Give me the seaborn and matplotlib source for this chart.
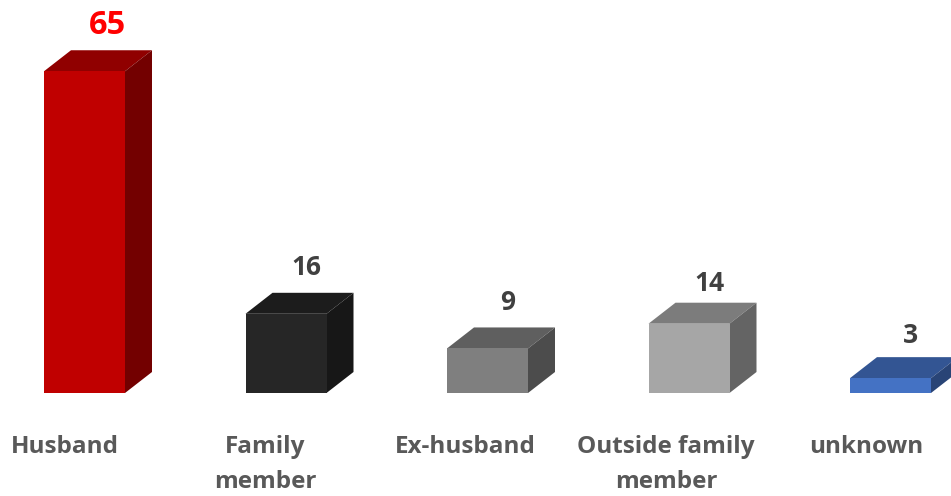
import matplotlib
matplotlib.use("Agg")
import matplotlib.pyplot as plt
from matplotlib.patches import Polygon
import pandas as pd
import seaborn as sns

categories = ["Husband", "Family\nmember", "Ex-husband", "Outside family\nmember", "unknown"]
values = [65, 16, 9, 14, 3]
front_colors = ["#C00000", "#262626", "#7F7F7F", "#A6A6A6", "#4472C4"]
top_colors = ["#900000", "#1C1C1C", "#5F5F5F", "#7C7C7C", "#335593"]
side_colors = ["#730000", "#171717", "#4C4C4C", "#646464", "#294476"]
value_colors = ["#FF0000", "#404040", "#404040", "#404040", "#404040"]

W, H = 951, 496
BASE_Y = 393
DX, DY = 27, 21  # depth of the fake 3d in px

# label offsets from bar in px, the labels were placed by hand in the original
val_off = [(23, 46), (20, 46), (20, 46), (20, 40), (20, 43)]
cat_off = [-20, -21, -22, -23, -24]

sns.set_theme(style="white")
plt.rcParams["font.family"] = ["Open Sans", "DejaVu Sans"]

df = pd.DataFrame({"cat": categories, "val": values})

fig = plt.figure(figsize=(W / 100, H / 100), dpi=100)
ax = fig.add_axes([0, (H - BASE_Y) / H, 1, BASE_Y / H])
sns.barplot(data=df, x="cat", y="val", hue="cat", palette=front_colors, legend=False,
            width=81 / 201.5, saturation=1, linewidth=0, ax=ax, zorder=3)
ax.set_xlim(-84.5 / 201.5, (W - 84.5) / 201.5)
ax.set_ylim(0, BASE_Y / 4.95)
ax.axis("off")

# px -> data sizes
dx = DX / 201.5
dy = DY / 4.95

for i, bar in enumerate(ax.patches):
    x0, x1 = bar.get_x(), bar.get_x() + bar.get_width()
    h = bar.get_height()
    ax.add_patch(Polygon([(x0, h), (x1, h), (x1 + dx, h + dy), (x0 + dx, h + dy)],
                         fc=top_colors[i], ec="none", clip_on=False, zorder=2))
    ax.add_patch(Polygon([(x1, 0), (x1 + dx, dy), (x1 + dx, h + dy), (x1, h)],
                         fc=side_colors[i], ec="none", clip_on=False, zorder=2))
    ax.annotate(str(values[i]), xy=(i, h), xytext=(val_off[i][0] * 0.72, val_off[i][1] * 0.72),
                textcoords="offset points", ha="center", va="center", fontweight="bold",
                color=value_colors[i], fontsize=23.5 if i == 0 else 19, annotation_clip=False)
    ax.annotate(categories[i], xy=(i, 0), xytext=(cat_off[i] * 0.72, -42 * 0.72), textcoords="offset points",
                ha="center", va="top", fontweight="bold", color="#595959",
                fontsize=17.5, linespacing=1.62, annotation_clip=False)

fig.savefig("out.png", dpi=100)
